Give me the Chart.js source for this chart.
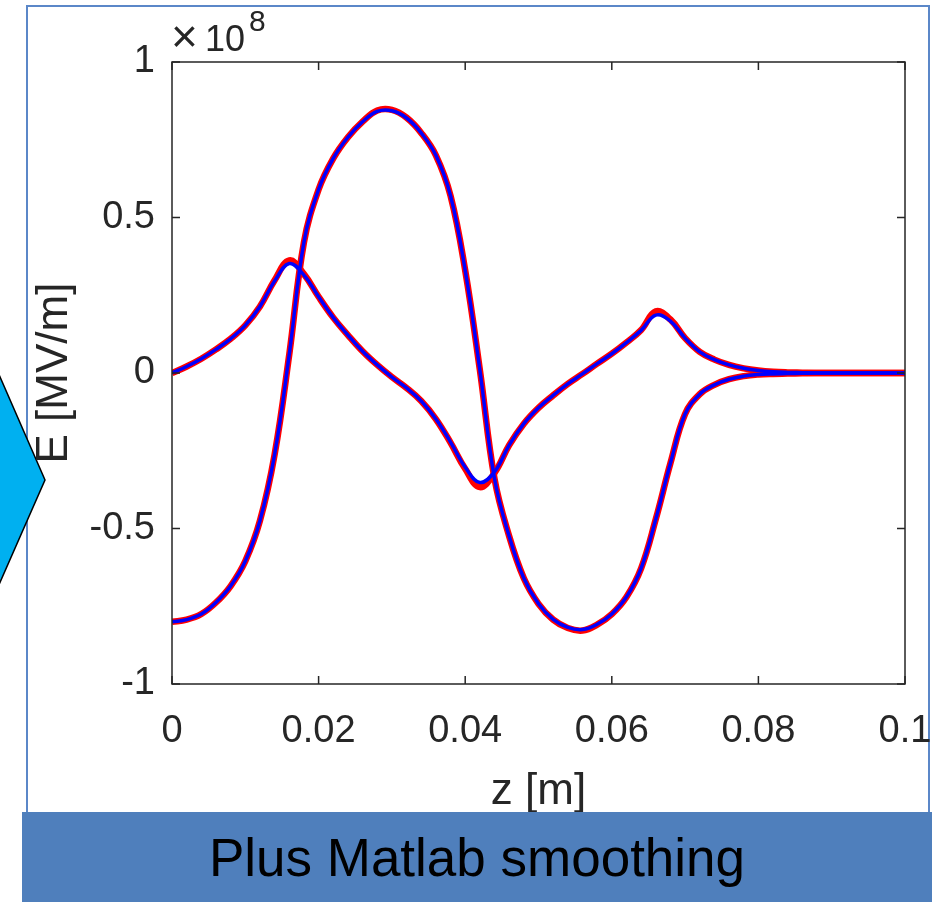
<!DOCTYPE html>
<html>
<head>
<meta charset="utf-8">
<title>Plus Matlab smoothing</title>
<script src="https://cdn.jsdelivr.net/npm/chart.js@4.4.1/dist/chart.umd.min.js"></script>
<style>
    body { margin: 0; background: #fff; font-family: 'Liberation Sans', Arial, sans-serif; }
    #page { position: relative; width: 939px; height: 902px; overflow: hidden; }
    #frame { position: absolute; left: 26px; top: 5px; width: 904px; height: 810px; border: 2px solid #5B87C8; box-sizing: border-box; }
    #arrow { position: absolute; left: 0; top: 0; }
    #fieldChart { position: absolute; left: 0; top: 0; }
    #banner {
        position: absolute; left: 22px; top: 812px; width: 910px; height: 90px;
        background: #4F7FBC; color: #000; font-size: 53px; line-height: 92px; text-align: center;
    }
</style>
</head>
<body>
<div id="page">
    <div id="frame"></div>
    <svg id="arrow" width="939" height="902">
        <polygon points="-10,354 45,480 -10,605" fill="#00B0F0" stroke="#000" stroke-width="1.5"/>
    </svg>
    <canvas id="fieldChart" width="939" height="818"></canvas>
    <div id="banner">Plus Matlab smoothing</div>
</div>

<script>
// z positions along the axis [m]
const zPositions = [0, 0.002, 0.004, 0.006, 0.008, 0.010, 0.012, 0.014, 0.016, 0.018,
    0.020, 0.022, 0.024, 0.026, 0.028, 0.030, 0.032, 0.034, 0.036, 0.038,
    0.040, 0.042, 0.044, 0.046, 0.048, 0.050, 0.052, 0.054, 0.056, 0.058,
    0.060, 0.062, 0.064, 0.066, 0.068, 0.070, 0.072, 0.074, 0.076, 0.078,
    0.080, 0.082, 0.084, 0.086, 0.088, 0.090, 0.092, 0.094, 0.096, 0.098, 0.100];

// field component starting at 0 (units of 1e8), raw and smoothed
const fieldRawA = [0, 0.021, 0.046, 0.076, 0.110, 0.153, 0.214, 0.298, 0.362, 0.318,
    0.245, 0.178, 0.122, 0.070, 0.026, -0.013, -0.048, -0.090, -0.148, -0.224,
    -0.308, -0.367, -0.321, -0.232, -0.163, -0.112, -0.072, -0.035, -0.003, 0.030,
    0.062, 0.098, 0.138, 0.198, 0.172, 0.112, 0.068, 0.043, 0.026, 0.015,
    0.008, 0.004, 0.002, 0.001, 0, 0, 0, 0, 0, 0, 0];
const fieldSmoothA = [0, 0.021, 0.046, 0.076, 0.110, 0.153, 0.214, 0.296, 0.352, 0.315,
    0.245, 0.178, 0.122, 0.070, 0.026, -0.013, -0.048, -0.090, -0.148, -0.222,
    -0.303, -0.352, -0.318, -0.232, -0.163, -0.112, -0.072, -0.035, -0.003, 0.030,
    0.062, 0.098, 0.137, 0.186, 0.167, 0.112, 0.068, 0.043, 0.026, 0.015,
    0.008, 0.004, 0.002, 0.001, 0, 0, 0, 0, 0, 0, 0];

// field component starting at -0.8 (units of 1e8), raw and smoothed
const fieldRawB = [-0.800, -0.793, -0.775, -0.738, -0.685, -0.605, -0.475, -0.262, 0.060, 0.420,
    0.590, 0.690, 0.758, 0.808, 0.844, 0.846, 0.821, 0.772, 0.700, 0.570,
    0.330, 0.010, -0.340, -0.525, -0.660, -0.742, -0.793, -0.820, -0.828, -0.809,
    -0.775, -0.720, -0.628, -0.470, -0.290, -0.132, -0.068, -0.038, -0.020, -0.010,
    -0.005, -0.003, -0.002, -0.001, 0, 0, 0, 0, 0, 0, 0];
const fieldSmoothB = [-0.800, -0.793, -0.775, -0.738, -0.685, -0.605, -0.475, -0.262, 0.060, 0.420,
    0.590, 0.690, 0.758, 0.808, 0.841, 0.843, 0.820, 0.772, 0.700, 0.570,
    0.330, 0.010, -0.340, -0.525, -0.660, -0.742, -0.792, -0.818, -0.825, -0.808,
    -0.775, -0.720, -0.628, -0.470, -0.290, -0.132, -0.068, -0.038, -0.020, -0.010,
    -0.005, -0.003, -0.002, -0.001, 0, 0, 0, 0, 0, 0, 0];

const zTicks = [0, 0.02, 0.04, 0.06, 0.08, 0.1];
const zTickLabels = ['0', '0.02', '0.04', '0.06', '0.08', '0.1'];
const eTicks = [-1, -0.5, 0, 0.5, 1];
const eTickLabels = ['-1', '-0.5', '0', '0.5', '1'];

const axisColor = '#262626';
const fontFamily = "'Liberation Sans', Arial, sans-serif";

const toPoints = values => zPositions.map((z, i) => ({ x: z, y: values[i] }));

const lineStyle = (color, width, order) => ({
    borderColor: color,
    borderWidth: width,
    pointRadius: 0,
    fill: false,
    tension: 0.4,
    order: order
});

// MATLAB style box with inward ticks and the exponent label
const matlabBox = {
    id: 'matlabBox',
    afterDraw(chart) {
        const { ctx, chartArea: a, scales } = chart;
        const tick = 8;
        ctx.save();
        ctx.strokeStyle = axisColor;
        ctx.lineWidth = 1.5;
        ctx.strokeRect(a.left, a.top, a.right - a.left, a.bottom - a.top);
        ctx.beginPath();
        zTicks.forEach(v => {
            const x = scales.x.getPixelForValue(v);
            ctx.moveTo(x, a.bottom); ctx.lineTo(x, a.bottom - tick);
            ctx.moveTo(x, a.top); ctx.lineTo(x, a.top + tick);
        });
        eTicks.forEach(v => {
            const y = scales.y.getPixelForValue(v);
            ctx.moveTo(a.left, y); ctx.lineTo(a.left + tick, y);
            ctx.moveTo(a.right, y); ctx.lineTo(a.right - tick, y);
        });
        ctx.stroke();

        ctx.fillStyle = axisColor;
        ctx.textAlign = 'left';
        ctx.textBaseline = 'alphabetic';
        ctx.font = '46px ' + fontFamily;
        ctx.fillText('\u00d7', a.left - 1, a.top - 10);
        ctx.font = '36px ' + fontFamily;
        ctx.fillText('10', a.left + 33, a.top - 11);
        ctx.font = '30px ' + fontFamily;
        ctx.fillText('8', a.left + 77, a.top - 31);
        ctx.restore();
    }
};

new Chart(document.getElementById('fieldChart').getContext('2d'), {
    type: 'line',
    data: {
        datasets: [
            { data: toPoints(fieldSmoothA), ...lineStyle('#0000FF', 3.5, 0) },
            { data: toPoints(fieldSmoothB), ...lineStyle('#0000FF', 3.5, 0) },
            { data: toPoints(fieldRawA), ...lineStyle('#FF0000', 6.5, 1) },
            { data: toPoints(fieldRawB), ...lineStyle('#FF0000', 6.5, 1) }
        ]
    },
    options: {
        responsive: false,
        animation: false,
        devicePixelRatio: 1,
        layout: { padding: { top: 62, right: 34, left: 0, bottom: 0 } },
        plugins: {
            legend: { display: false },
            tooltip: { enabled: false }
        },
        scales: {
            x: {
                type: 'linear',
                min: 0,
                max: 0.1,
                afterBuildTicks: scale => { scale.ticks = zTicks.map(v => ({ value: v })); },
                afterFit: scale => {
                    scale.height = 134;
                    scale.paddingLeft = 0;
                    scale.paddingRight = 0;
                },
                grid: { display: false, drawTicks: false },
                border: { display: false },
                ticks: {
                    autoSkip: false,
                    maxRotation: 0,
                    padding: 25,
                    color: axisColor,
                    font: { family: fontFamily, size: 38 },
                    callback: (value, index) => zTickLabels[index]
                },
                title: {
                    display: true,
                    text: 'z [m]',
                    color: axisColor,
                    font: { family: fontFamily, size: 44 },
                    padding: { top: 0, bottom: 0 }
                }
            },
            y: {
                type: 'linear',
                min: -1,
                max: 1,
                afterBuildTicks: scale => { scale.ticks = eTicks.map(v => ({ value: v })); },
                afterFit: scale => { scale.width = 172; },
                grid: { display: false, drawTicks: false },
                border: { display: false },
                ticks: {
                    padding: 17,
                    color: axisColor,
                    font: { family: fontFamily, size: 38 },
                    callback: (value, index) => eTickLabels[index]
                },
                title: {
                    display: true,
                    text: 'E [MV/m]',
                    color: axisColor,
                    font: { family: fontFamily, size: 44 },
                    padding: { top: 28, bottom: 0 }
                }
            }
        }
    },
    plugins: [matlabBox]
});
</script>
</body>
</html>
